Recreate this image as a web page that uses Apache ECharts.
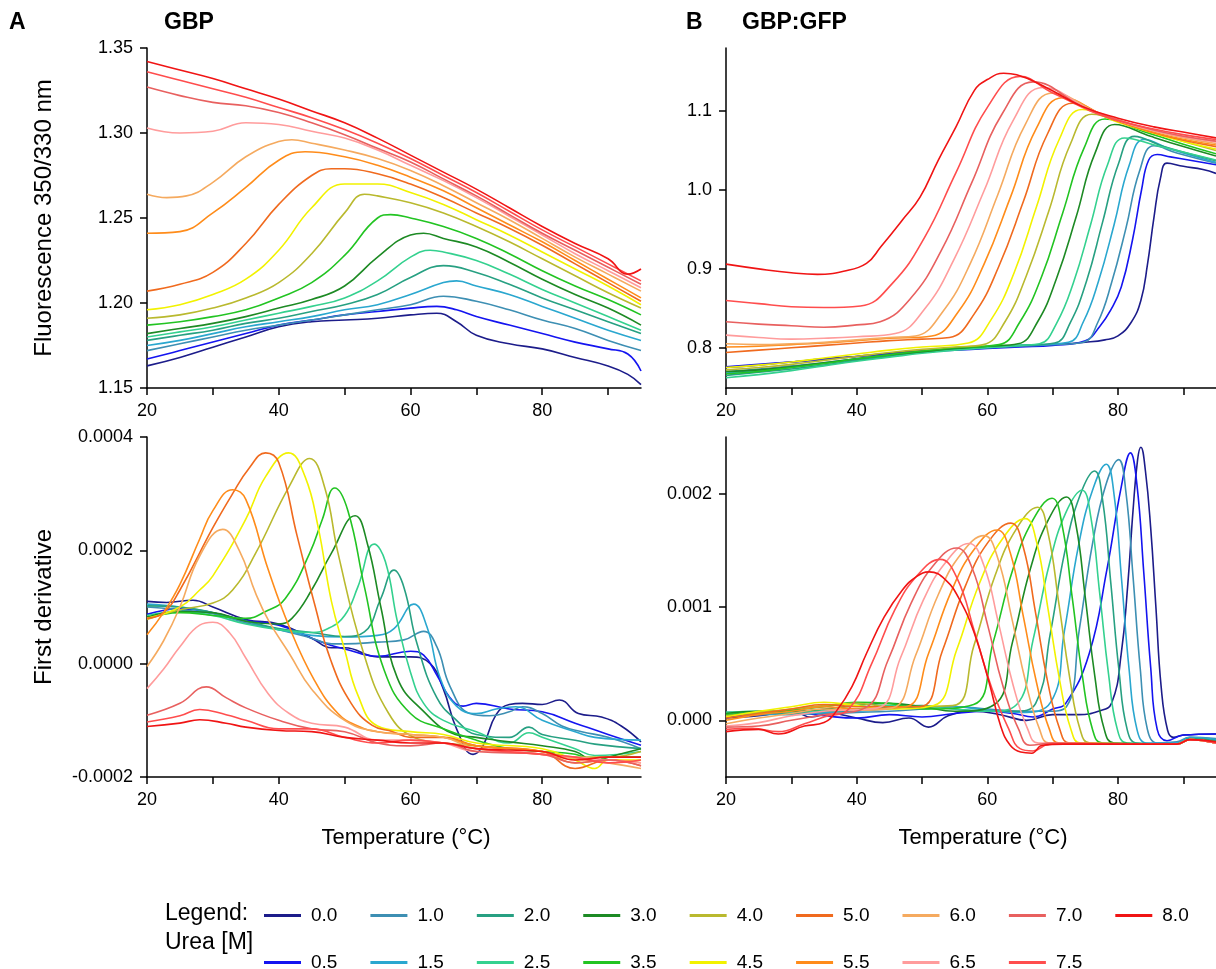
<!DOCTYPE html>
<html>
<head>
<meta charset="utf-8">
<script src="https://cdn.jsdelivr.net/npm/echarts@6/dist/echarts.min.js"></script>
<style>
  html, body { margin: 0; padding: 0; background: #fff; }
  #chart { width: 1216px; height: 969px; }
</style>
</head>
<body>
<div id="chart"></div>
<script>
// urea concentrations, one curve each
var urea = ['0.0', '0.5', '1.0', '1.5', '2.0', '2.5', '3.0', '3.5', '4.0', '4.5', '5.0', '5.5', '6.0', '6.5', '7.0', '7.5', '8.0'];
var colors = ['#1c1c8a', '#1414f0', '#3d8fb3', '#2aa7cf', '#27a082', '#34d18f', '#1d8a24', '#22c422', '#b9b92e',
              '#f2f200', '#f06a1e', '#ff8c1a', '#f5aa5f', '#ff9c9c', '#e8605f', '#ff4d4d', '#f01414'];

var xTicks = [20, 30, 40, 50, 60, 70, 80, 90];
var xLabels = [20, 40, 60, 80];
var yTicksFluoA = [1.15, 1.20, 1.25, 1.30, 1.35];
var yTicksDerivA = [-0.0002, 0, 0.0002, 0.0004];
var yTicksFluoB = [0.8, 0.9, 1.0, 1.1];
var yTicksDerivB = [0, 0.001, 0.002];

// GBP, fluorescence 350/330 nm  [temperature, ratio]
var fluoGBP = [
  [[20,1.163],[25,1.168],[30,1.174],[35,1.180],[40,1.186],[45,1.189],[50,1.190],[55,1.191],[60,1.193],[64,1.194],[67,1.189],[70,1.181],[75,1.176],[80,1.173],[85,1.168],[90,1.163],[93,1.158],[95,1.152]],
  [[20,1.167],[25,1.172],[30,1.177],[35,1.182],[40,1.187],[45,1.190],[50,1.193],[55,1.195],[60,1.197],[64,1.198],[67,1.196],[70,1.192],[75,1.187],[80,1.182],[85,1.177],[90,1.173],[93,1.170],[95,1.160]],
  [[20,1.172],[25,1.176],[30,1.180],[35,1.184],[40,1.187],[45,1.190],[50,1.193],[55,1.196],[60,1.199],[65,1.204],[70,1.201],[75,1.196],[80,1.190],[85,1.185],[90,1.178],[95,1.172]],
  [[20,1.175],[25,1.178],[30,1.182],[35,1.186],[40,1.189],[45,1.192],[50,1.196],[55,1.199],[60,1.205],[65,1.212],[67,1.213],[70,1.210],[75,1.205],[80,1.198],[85,1.191],[90,1.184],[95,1.178]],
  [[20,1.178],[25,1.181],[30,1.184],[35,1.188],[40,1.191],[45,1.195],[50,1.199],[55,1.205],[60,1.215],[65,1.222],[70,1.218],[75,1.211],[80,1.203],[85,1.196],[90,1.189],[95,1.182]],
  [[20,1.180],[25,1.183],[30,1.186],[35,1.190],[40,1.194],[45,1.198],[50,1.203],[55,1.213],[60,1.227],[63,1.231],[65,1.230],[70,1.225],[75,1.217],[80,1.208],[85,1.200],[90,1.192],[95,1.184]],
  [[20,1.182],[25,1.185],[30,1.188],[35,1.192],[40,1.197],[45,1.202],[50,1.210],[55,1.227],[60,1.240],[62,1.241],[65,1.238],[70,1.233],[75,1.224],[80,1.214],[85,1.205],[90,1.197],[95,1.187]],
  [[20,1.187],[25,1.189],[30,1.192],[35,1.196],[40,1.203],[45,1.212],[50,1.228],[55,1.250],[57,1.252],[60,1.250],[65,1.245],[70,1.238],[75,1.229],[80,1.219],[85,1.210],[90,1.202],[95,1.193]],
  [[20,1.191],[25,1.193],[30,1.197],[35,1.203],[40,1.212],[45,1.229],[50,1.253],[53,1.264],[55,1.263],[60,1.259],[65,1.253],[70,1.245],[75,1.236],[80,1.226],[85,1.216],[90,1.206],[95,1.197]],
  [[20,1.196],[25,1.199],[30,1.205],[35,1.214],[40,1.231],[45,1.256],[50,1.270],[55,1.270],[60,1.265],[65,1.258],[70,1.249],[75,1.240],[80,1.230],[85,1.220],[90,1.210],[95,1.199]],
  [[20,1.207],[25,1.211],[30,1.218],[35,1.235],[40,1.258],[45,1.275],[48,1.279],[50,1.279],[55,1.276],[60,1.270],[65,1.262],[70,1.253],[75,1.244],[80,1.234],[85,1.223],[90,1.212],[95,1.201]],
  [[20,1.241],[25,1.242],[30,1.253],[35,1.268],[40,1.284],[44,1.289],[50,1.286],[55,1.281],[60,1.274],[65,1.266],[70,1.256],[75,1.246],[80,1.236],[85,1.225],[90,1.214],[95,1.203]],
  [[20,1.264],[23,1.262],[26,1.263],[30,1.271],[35,1.286],[40,1.295],[42,1.296],[45,1.294],[50,1.290],[55,1.285],[60,1.278],[65,1.269],[70,1.259],[75,1.249],[80,1.238],[85,1.227],[90,1.217],[95,1.207]],
  [[20,1.303],[25,1.300],[30,1.301],[35,1.306],[40,1.305],[45,1.301],[50,1.297],[55,1.290],[60,1.281],[65,1.272],[70,1.262],[75,1.251],[80,1.240],[85,1.229],[90,1.219],[95,1.209]],
  [[20,1.327],[25,1.322],[30,1.318],[35,1.316],[40,1.312],[45,1.306],[50,1.299],[55,1.291],[60,1.283],[65,1.273],[70,1.263],[75,1.252],[80,1.241],[85,1.231],[90,1.221],[95,1.211]],
  [[20,1.336],[25,1.331],[30,1.326],[35,1.321],[40,1.315],[45,1.309],[50,1.302],[55,1.294],[60,1.285],[65,1.275],[70,1.265],[75,1.254],[80,1.243],[85,1.233],[90,1.223],[95,1.213]],
  [[20,1.342],[25,1.337],[30,1.332],[35,1.326],[40,1.320],[45,1.313],[50,1.306],[55,1.297],[60,1.287],[65,1.277],[70,1.267],[75,1.256],[80,1.245],[85,1.235],[90,1.226],[93,1.217],[95,1.220]]
];

// GBP, first derivative, values in units of 1e-4
var derivGBP = [
  [[20,1.10],[23,1.08],[27,1.12],[30,1.0],[35,0.78],[40,0.70],[45,0.45],[48,0.28],[50,0.28],[55,0.12],[60,0.12],[63,0.0],[65,-0.45],[67,-1.15],[69.5,-1.6],[71,-1.45],[73,-0.9],[75,-0.72],[77,-0.7],[80,-0.72],[82.6,-0.64],[85.5,-0.88],[89,-0.94],[92,-1.1],[95,-1.38]],
  [[20,0.87],[25,0.97],[30,0.90],[35,0.76],[40,0.68],[45,0.45],[48,0.32],[50,0.26],[55,0.13],[60,0.22],[62,0.15],[64,-0.2],[66,-0.6],[68,-0.75],[70,-0.7],[75,-0.8],[80,-0.85],[85,-1.05],[90,-1.25],[95,-1.44]],
  [[20,1.0],[25,0.95],[30,0.88],[35,0.72],[40,0.6],[45,0.45],[48,0.35],[50,0.35],[55,0.38],[59,0.42],[62,0.57],[64,0.3],[66,-0.4],[69,-0.88],[72,-0.92],[75,-0.85],[77,-0.76],[80,-0.88],[83,-1.1],[86,-1.2],[90,-1.3],[95,-1.5]],
  [[20,1.05],[25,1.0],[30,0.9],[35,0.75],[40,0.6],[45,0.5],[50,0.47],[55,0.5],[57.5,0.62],[60.5,1.05],[62.5,0.65],[64.5,-0.25],[67,-0.75],[70,-0.88],[73,-0.8],[76,-0.76],[80,-1.0],[85,-1.2],[88,-1.3],[95,-1.35]],
  [[20,1.02],[25,1.0],[30,0.9],[35,0.75],[40,0.62],[45,0.55],[50,0.48],[53,0.56],[55.5,1.15],[57.5,1.65],[59,1.35],[61,0.35],[64,-0.6],[67,-1.0],[70,-1.25],[75,-1.3],[78,-1.12],[80,-1.25],[85,-1.35],[88,-1.42],[95,-1.5]],
  [[20,0.85],[25,0.92],[30,0.85],[35,0.7],[40,0.6],[45,0.55],[47.5,0.62],[50,0.85],[52,1.35],[54.5,2.11],[56.2,1.8],[58,0.75],[60,-0.15],[62,-0.7],[65,-1.0],[70,-1.2],[75,-1.4],[78,-1.22],[80,-1.3],[85,-1.5],[88,-1.62],[95,-1.55]],
  [[20,0.82],[25,0.92],[30,0.9],[35,0.75],[40,0.7],[42,0.8],[45,1.3],[48,1.95],[51.6,2.61],[53.5,2.1],[55.5,1.0],[58,-0.25],[61.8,-0.82],[66.8,-1.25],[70,-1.3],[75,-1.38],[80,-1.45],[85,-1.55],[88,-1.72],[90,-1.65],[95,-1.5]],
  [[20,0.8],[25,0.9],[30,0.85],[35,0.8],[38,0.92],[41,1.15],[44.7,1.95],[46.6,2.54],[48.5,3.10],[50.5,2.7],[53,1.36],[56,-0.11],[60,-0.88],[65,-1.15],[70,-1.35],[75,-1.5],[80,-1.55],[85,-1.6],[88,-1.72],[90,-1.65],[95,-1.65]],
  [[20,0.78],[25,0.95],[30,1.07],[33,1.3],[36.5,1.95],[41.6,3.13],[44.7,3.62],[47,3.1],[49,1.95],[52.9,0.18],[56.7,-0.88],[60.5,-1.3],[65,-1.4],[70,-1.45],[80,-1.55],[85,-1.65],[90,-1.65],[95,-1.55]],
  [[20,0.8],[25,1.0],[28,1.3],[30,1.55],[35,2.55],[38,3.3],[41.5,3.72],[44,3.3],[46,2.4],[48,1.1],[50,0.25],[52,-0.55],[55,-1.1],[60,-1.2],[65,-1.25],[70,-1.4],[80,-1.5],[85,-1.7],[88,-1.85],[90,-1.7],[95,-1.7]],
  [[20,0.8],[22.5,0.9],[25,1.3],[30,2.4],[33,3.0],[35.5,3.45],[38,3.72],[40,3.55],[42.8,2.25],[45.4,1.07],[47.9,0.06],[51,-0.7],[54.2,-1.09],[57.3,-1.2],[60,-1.3],[65,-1.3],[70,-1.45],[80,-1.55],[85,-1.85],[90,-1.7],[95,-1.8]],
  [[20,0.51],[22.5,0.9],[25,1.4],[28,2.2],[30,2.7],[33,3.07],[35,2.9],[38.4,1.66],[41.6,0.65],[45.4,-0.29],[49,-0.88],[52,-1.1],[55,-1.2],[60,-1.25],[65,-1.3],[70,-1.45],[80,-1.55],[85,-1.75],[90,-1.7],[95,-1.75]],
  [[20,-0.05],[22.5,0.4],[25,1.0],[28,1.9],[31.5,2.37],[34,2.0],[36.5,1.24],[38.5,0.75],[41.6,0.18],[45,-0.45],[50,-1.0],[55,-1.2],[60,-1.25],[65,-1.3],[70,-1.5],[80,-1.6],[90,-1.75],[95,-1.85]],
  [[20,-0.44],[22.5,-0.1],[25,0.3],[28,0.68],[30,0.73],[32.5,0.55],[35,0.1],[38.4,-0.53],[41.6,-0.88],[45,-1.05],[50,-1.12],[55,-1.35],[60,-1.35],[65,-1.4],[70,-1.55],[75,-1.55],[80,-1.6],[85,-1.65],[90,-1.7],[95,-1.75]],
  [[20,-0.91],[25,-0.7],[29,-0.41],[32,-0.6],[35,-0.78],[40,-1.0],[45,-1.15],[50,-1.2],[55,-1.4],[60,-1.45],[65,-1.4],[70,-1.55],[80,-1.6],[85,-1.75],[90,-1.7],[95,-1.8]],
  [[20,-1.03],[25,-0.92],[28,-0.81],[32,-0.9],[35,-1.0],[40,-1.15],[45,-1.15],[50,-1.3],[55,-1.4],[60,-1.35],[65,-1.4],[70,-1.5],[80,-1.6],[85,-1.65],[90,-1.75],[95,-1.7]],
  [[20,-1.11],[25,-1.05],[28,-0.99],[32,-1.05],[35,-1.12],[40,-1.18],[45,-1.2],[50,-1.3],[55,-1.35],[60,-1.4],[65,-1.4],[70,-1.5],[80,-1.55],[85,-1.7],[90,-1.65],[95,-1.65]]
];

// GBP:GFP, fluorescence 350/330 nm
var fluoGFP = [
  [[20,0.775],[25,0.778],[30,0.782],[35,0.786],[40,0.789],[45,0.793],[50,0.796],[55,0.798],[60,0.800],[65,0.802],[70,0.804],[75,0.807],[78,0.810],[80,0.815],[82,0.832],[83.5,0.860],[84.5,0.905],[85.5,0.965],[86.5,1.015],[87.5,1.034],[90,1.030],[93,1.026],[95,1.021]],
  [[20,0.776],[25,0.779],[30,0.782],[35,0.785],[40,0.789],[45,0.792],[50,0.795],[55,0.797],[60,0.799],[65,0.801],[70,0.803],[75,0.809],[77.2,0.827],[78.9,0.848],[80.5,0.877],[82.2,0.936],[83.6,1.000],[84.7,1.038],[86,1.045],[88,1.042],[95,1.032]],
  [[20,0.770],[25,0.773],[30,0.777],[35,0.781],[40,0.786],[45,0.791],[50,0.795],[55,0.798],[60,0.800],[65,0.802],[70,0.804],[74.7,0.807],[76.9,0.832],[79,0.882],[81.2,0.951],[83.3,1.024],[85.5,1.056],[89,1.047],[95,1.034]],
  [[20,0.768],[25,0.771],[30,0.775],[35,0.780],[40,0.785],[45,0.790],[50,0.795],[55,0.798],[60,0.801],[65,0.803],[72.4,0.807],[74.7,0.833],[77,0.884],[79.4,0.956],[81.7,1.031],[84,1.064],[88,1.052],[95,1.035]],
  [[20,0.765],[25,0.769],[30,0.773],[35,0.778],[40,0.784],[45,0.789],[50,0.794],[55,0.798],[60,0.801],[65,0.803],[70.3,0.806],[72.7,0.832],[75.2,0.885],[77.6,0.958],[80.1,1.034],[82.5,1.068],[87,1.055],[95,1.037]],
  [[20,0.762],[25,0.766],[30,0.771],[35,0.777],[40,0.783],[45,0.788],[50,0.793],[55,0.797],[60,0.800],[65,0.803],[68,0.805],[70.6,0.831],[73.2,0.883],[75.8,0.956],[78.4,1.032],[81,1.066],[86,1.056],[95,1.038]],
  [[20,0.770],[25,0.772],[30,0.776],[35,0.781],[40,0.786],[45,0.791],[50,0.795],[55,0.799],[60,0.802],[64.7,0.805],[67.7,0.833],[70.6,0.888],[73.6,0.966],[76.5,1.047],[79.5,1.083],[85,1.068],[90,1.055],[95,1.043]],
  [[20,0.767],[25,0.770],[30,0.775],[35,0.780],[40,0.786],[45,0.791],[50,0.796],[55,0.800],[61.8,0.804],[65,0.833],[68.3,0.890],[71.5,0.970],[74.8,1.053],[78,1.090],[84,1.074],[90,1.058],[95,1.046]],
  [[20,0.772],[25,0.775],[30,0.779],[35,0.784],[40,0.789],[45,0.794],[50,0.798],[55,0.801],[59.4,0.804],[62.7,0.833],[66,0.892],[69.4,0.973],[72.7,1.058],[76,1.096],[82,1.081],[89,1.064],[95,1.050]],
  [[20,0.775],[25,0.778],[30,0.782],[35,0.787],[40,0.792],[45,0.797],[50,0.801],[57.1,0.806],[60.6,0.836],[64.1,0.895],[67.5,0.978],[71,1.064],[74.5,1.102],[80,1.086],[88,1.066],[95,1.052]],
  [[20,0.794],[25,0.797],[30,0.800],[35,0.803],[40,0.806],[45,0.809],[50,0.811],[54.2,0.813],[58,0.843],[61.7,0.902],[65.5,0.985],[69.2,1.071],[73,1.110],[79,1.090],[87,1.069],[95,1.055]],
  [[20,0.801],[25,0.802],[30,0.804],[35,0.806],[40,0.809],[45,0.812],[51.5,0.815],[55.5,0.845],[59.5,0.906],[63.5,0.990],[67.5,1.078],[71.5,1.117],[78,1.094],[86,1.072],[95,1.057]],
  [[20,0.805],[25,0.804],[30,0.805],[35,0.807],[40,0.810],[45,0.813],[49,0.815],[53.2,0.846],[57.4,0.907],[61.6,0.994],[65.8,1.083],[70,1.123],[77,1.098],[86,1.074],[95,1.059]],
  [[20,0.816],[25,0.813],[30,0.811],[35,0.812],[40,0.814],[45.9,0.818],[50.4,0.849],[54.9,0.912],[59.5,0.999],[64,1.089],[68.5,1.130],[76,1.101],[85,1.076],[95,1.061]],
  [[20,0.833],[25,0.830],[30,0.828],[35,0.826],[40,0.829],[43.6,0.833],[48.3,0.863],[53,0.924],[57.6,1.009],[62.3,1.097],[67,1.137],[75,1.104],[85,1.077],[95,1.062]],
  [[20,0.860],[25,0.856],[30,0.852],[35,0.851],[40.6,0.853],[45.5,0.882],[50.4,0.940],[55.2,1.022],[60.1,1.106],[65,1.144],[70,1.123],[80,1.088],[95,1.064]],
  [[20,0.906],[25,0.900],[30,0.895],[34,0.893],[38,0.897],[41.5,0.907],[43.7,0.928],[47,0.962],[49.7,0.991],[52.5,1.038],[55.2,1.080],[58,1.126],[60,1.140],[62.5,1.148],[64.5,1.146],[69,1.130],[74.5,1.106],[80,1.091],[85.5,1.080],[91,1.072],[95,1.066]]
];

// GBP:GFP, first derivative, values in units of 1e-3
var derivGFP = [
  [[20,0.02],[25,0.04],[30,0.08],[33,0.03],[36,0.06],[40,0.02],[44,-0.02],[48,0.02],[51,-0.06],[54,0.04],[58,0.08],[62,0.05],[66,0.0],[70,0.05],[74,0.05],[77,0.08],[79,0.15],[80.5,0.59],[81.5,1.2],[82.3,1.85],[83,2.3],[83.5,2.41],[84.2,2.2],[85,1.7],[85.8,1.0],[86.6,0.3],[87.6,-0.09],[88.5,-0.15],[90,-0.13],[95,-0.12]],
  [[20,0.03],[25,0.05],[30,0.07],[35,0.04],[40,0.02],[45,0.05],[50,0.03],[55,0.06],[60,0.08],[64,0.06],[67,0.03],[70,0.1],[72,0.15],[75.6,0.59],[78.3,1.33],[80.5,2.06],[81.9,2.36],[82.9,2.08],[83.95,1.3],[85,0.47],[86,-0.08],[87.5,-0.18],[90,-0.13],[95,-0.12]],
  [[20,0.05],[25,0.05],[30,0.06],[35,0.06],[40,0.07],[45,0.08],[50,0.1],[55,0.12],[60,0.1],[65,0.08],[69,0.08],[72.1,0.12],[74.1,0.81],[76.1,1.56],[78.1,2.07],[80.1,2.30],[81.2,2.02],[82.3,1.27],[83.4,0.46],[84.5,-0.08],[86,-0.2],[89,-0.19],[91,-0.15],[95,-0.16]],
  [[20,0.06],[25,0.06],[30,0.05],[35,0.07],[40,0.08],[45,0.1],[50,0.12],[55,0.12],[60,0.09],[65,0.07],[69.7,0.16],[71.8,0.79],[73.95,1.54],[76.1,2.03],[78.2,2.26],[79.4,1.99],[80.55,1.24],[81.7,0.45],[82.9,-0.08],[84.4,-0.2],[89,-0.2],[91,-0.15],[95,-0.17]],
  [[20,0.07],[25,0.07],[30,0.06],[35,0.08],[40,0.09],[45,0.12],[50,0.13],[55,0.1],[60,0.08],[64,0.08],[67.4,0.15],[69.65,0.77],[71.9,1.50],[74.15,1.98],[76.4,2.2],[77.65,1.94],[78.9,1.21],[80.15,0.44],[81.4,-0.08],[82.9,-0.2],[89,-0.21],[91,-0.16],[95,-0.18]],
  [[20,0.07],[25,0.08],[30,0.07],[35,0.09],[40,0.1],[45,0.13],[50,0.12],[55,0.1],[60,0.08],[64.5,0.14],[67,0.71],[69.5,1.38],[72,1.83],[74.5,2.03],[75.85,1.79],[77.2,1.12],[78.55,0.41],[79.9,-0.08],[81.4,-0.2],[89,-0.21],[91,-0.17],[95,-0.19]],
  [[20,0.06],[25,0.08],[30,0.08],[35,0.1],[40,0.13],[45,0.15],[50,0.12],[55,0.08],[61.1,0.14],[63.85,0.69],[66.6,1.34],[69.35,1.77],[72.1,1.97],[73.55,1.73],[75,1.08],[76.45,0.39],[77.9,-0.08],[79.4,-0.2],[89,-0.21],[91,-0.17],[95,-0.19]],
  [[20,0.05],[25,0.07],[30,0.09],[35,0.12],[40,0.16],[45,0.15],[50,0.1],[57.9,0.14],[60.9,0.69],[63.9,1.33],[66.9,1.76],[69.9,1.96],[71.45,1.72],[73,1.08],[74.55,0.39],[76.1,-0.08],[77.6,-0.2],[89,-0.21],[91,-0.17],[95,-0.2]],
  [[20,0.04],[25,0.07],[30,0.1],[35,0.13],[40,0.15],[45,0.12],[54.7,0.13],[57.95,0.66],[61.2,1.28],[64.45,1.69],[67.7,1.88],[69.3,1.65],[70.95,1.03],[72.6,0.38],[74.2,-0.08],[75.7,-0.2],[89,-0.21],[91,-0.17],[95,-0.2]],
  [[20,0.03],[25,0.08],[30,0.12],[35,0.16],[40,0.13],[45,0.1],[51.8,0.13],[55.3,0.62],[58.8,1.21],[62.3,1.60],[65.8,1.78],[67.55,1.57],[69.3,0.98],[71.05,0.36],[72.8,-0.08],[74.3,-0.2],[89,-0.21],[91,-0.17],[95,-0.2]],
  [[20,0.02],[25,0.06],[30,0.1],[35,0.14],[40,0.12],[49.6,0.12],[53.1,0.61],[56.6,1.18],[60.1,1.57],[63.6,1.74],[65.5,1.53],[67.35,0.96],[69.2,0.35],[71.1,-0.08],[72.6,-0.2],[89,-0.21],[91,-0.17],[95,-0.2]],
  [[20,0.0],[25,0.05],[30,0.08],[35,0.12],[40,0.1],[47.5,0.12],[51,0.59],[54.5,1.14],[58,1.51],[61.5,1.68],[63.5,1.48],[65.5,0.92],[67.5,0.34],[69.5,-0.08],[71,-0.2],[89,-0.21],[91,-0.17],[95,-0.2]],
  [[20,-0.03],[25,0.02],[30,0.06],[35,0.1],[40,0.09],[45.5,0.11],[49,0.57],[52.5,1.11],[56,1.47],[59.5,1.63],[61.6,1.43],[63.75,0.90],[65.9,0.33],[68,-0.08],[69.5,-0.2],[89,-0.21],[91,-0.17],[95,-0.2]],
  [[20,-0.05],[25,-0.02],[30,0.04],[35,0.08],[43.2,0.11],[46.7,0.55],[50.2,1.06],[53.7,1.40],[57.2,1.56],[59.45,1.37],[61.7,0.86],[63.95,0.31],[66.2,-0.08],[67.8,-0.2],[89,-0.21],[91,-0.17],[95,-0.2]],
  [[20,-0.06],[25,-0.05],[30,0.0],[35,0.05],[41.3,0.11],[44.8,0.53],[48.3,1.03],[51.8,1.37],[55.3,1.52],[57.7,1.34],[60.05,0.84],[62.4,0.30],[64.8,-0.08],[66.5,-0.22],[70,-0.2],[89,-0.21],[91,-0.17],[95,-0.2]],
  [[20,-0.08],[24,-0.07],[28,-0.1],[32,-0.03],[35,0.03],[38.8,0.10],[42.3,0.50],[45.8,0.97],[49.3,1.28],[52.8,1.42],[55.4,1.25],[58.05,0.78],[60.7,0.28],[63.3,-0.08],[65,-0.25],[67,-0.27],[69.5,-0.21],[89,-0.21],[91,-0.17],[95,-0.2]],
  [[20,-0.10],[25,-0.08],[28,-0.12],[32,-0.05],[35,-0.02],[37,0.09],[39.3,0.30],[41.5,0.59],[44.2,0.91],[47,1.15],[49.2,1.27],[51.1,1.31],[53.6,1.24],[55.8,1.06],[58,0.77],[60.2,0.35],[62.1,-0.06],[63.5,-0.22],[65.1,-0.28],[66.8,-0.29],[68.4,-0.22],[71.7,-0.21],[89,-0.21],[91,-0.17],[95,-0.19]]
];

var FONT = '"Liberation Sans", Arial, sans-serif';
var chart = echarts.init(document.getElementById('chart'), null, { renderer: 'canvas' });

var grids = [
  { left: 147, top: 48, width: 494, height: 340 },
  { left: 726, top: 48, width: 490, height: 340 },
  { left: 147, top: 437, width: 494, height: 340 },
  { left: 726, top: 437, width: 490, height: 340 }
];

function xAxisFor(i) {
  return {
    type: 'value', gridIndex: i, min: 20, max: 95,
    axisLine: { onZero: false, lineStyle: { color: '#000', width: 1.5 } },
    axisTick: { length: 7, customValues: xTicks, lineStyle: { color: '#000', width: 1.5 } },
    axisLabel: { customValues: xLabels, margin: 14, fontSize: 18, color: '#000', fontFamily: FONT },
    splitLine: { show: false },
    name: i >= 2 ? 'Temperature (°C)' : '',
    nameLocation: 'middle', nameGap: 50,
    nameTextStyle: { fontSize: 22, color: '#000', fontFamily: FONT, padding: [0, 0, 0, 24] }
  };
}

function yAxisFor(i, min, max, ticks, digits, name) {
  return {
    type: 'value', gridIndex: i, min: min, max: max,
    axisLine: { show: true, onZero: false, lineStyle: { color: '#000', width: 1.5 } },
    axisTick: { show: true, length: 7, customValues: ticks, lineStyle: { color: '#000', width: 1.5 } },
    axisLabel: {
      customValues: ticks, margin: 14, fontSize: 18, color: '#000', fontFamily: FONT,
      formatter: function (v) { return (Math.abs(v) < 1e-12 ? 0 : v).toFixed(digits); }
    },
    splitLine: { show: false },
    name: name, nameLocation: 'middle', nameGap: 91,
    nameTextStyle: { fontSize: 24, color: '#000', fontFamily: FONT }
  };
}

function makeSeries(panel, idx, scale) {
  return panel.map(function (pts, i) {
    return {
      name: urea[i], type: 'line', xAxisIndex: idx, yAxisIndex: idx,
      data: pts.map(function (p) { return [p[0], p[1] * scale]; }),
      showSymbol: false, smooth: 0.45,
      color: colors[i], lineStyle: { width: 1.6, color: colors[i] },
      silent: true, animation: false
    };
  });
}

var series = [].concat(
  makeSeries(fluoGBP, 0, 1),
  makeSeries(fluoGFP, 1, 1),
  makeSeries(derivGBP, 2, 1e-4),
  makeSeries(derivGFP, 3, 1e-3)
);

function legendRow(names, top) {
  return {
    data: names, left: 264, top: top, orient: 'horizontal', padding: 0,
    icon: 'rect', itemWidth: 37, itemHeight: 3, itemGap: 33,
    selectedMode: false,
    textStyle: { fontSize: 19, color: '#000', fontFamily: FONT, padding: [0, 0, 0, 5] }
  };
}

chart.setOption({
  animation: false,
  grid: grids,
  xAxis: [xAxisFor(0), xAxisFor(1), xAxisFor(2), xAxisFor(3)],
  yAxis: [
    yAxisFor(0, 1.15, 1.35, yTicksFluoA, 2, 'Fluorescence 350/330 nm'),
    yAxisFor(1, 0.749, 1.18, yTicksFluoB, 1, ''),
    yAxisFor(2, -0.0002, 0.0004, yTicksDerivA, 4, 'First derivative'),
    yAxisFor(3, -0.0005, 0.0025, yTicksDerivB, 3, '')
  ],
  legend: [
    legendRow(urea.filter(function (u, i) { return i % 2 === 0; }), 906),
    legendRow(urea.filter(function (u, i) { return i % 2 === 1; }), 953)
  ],
  graphic: [
    { type: 'text', left: 9, top: 11, style: { text: 'A', font: 'bold 23px ' + FONT, fill: '#000' } },
    { type: 'text', left: 164, top: 11, style: { text: 'GBP', font: 'bold 23px ' + FONT, fill: '#000' } },
    { type: 'text', left: 686, top: 11, style: { text: 'B', font: 'bold 23px ' + FONT, fill: '#000' } },
    { type: 'text', left: 742, top: 11, style: { text: 'GBP:GFP', font: 'bold 23px ' + FONT, fill: '#000' } },
    { type: 'text', left: 165, top: 902, style: { text: 'Legend:', font: '23px ' + FONT, fill: '#000' } },
    { type: 'text', left: 165, top: 931, style: { text: 'Urea [M]', font: '23px ' + FONT, fill: '#000' } }
  ],
  series: series
});
</script>
</body>
</html>
